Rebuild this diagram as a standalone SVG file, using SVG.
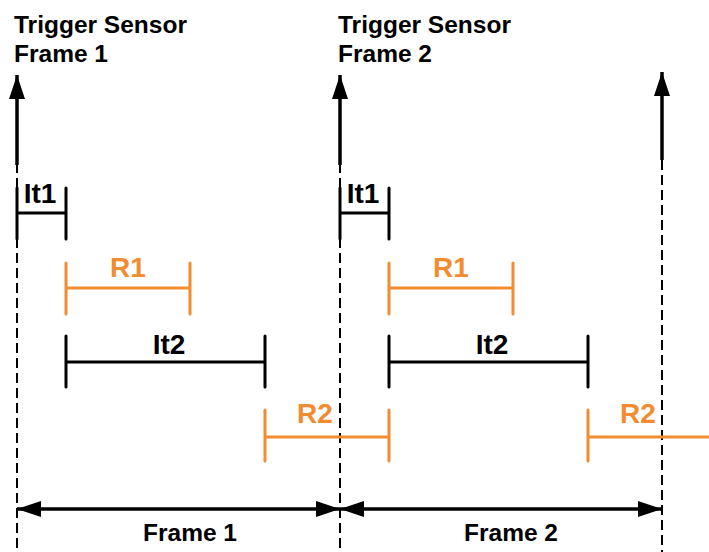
<svg xmlns="http://www.w3.org/2000/svg" width="709" height="552" viewBox="0 0 709 552">
<style>
text{font-family:"Liberation Sans",Arial,sans-serif;font-weight:bold}
.t{font-size:24.5px;fill:#000}
.lb{font-size:28px;fill:#000;text-anchor:middle}
.lo{font-size:28px;fill:#F28C30;text-anchor:middle}
.fr{font-size:24.5px;fill:#000;text-anchor:middle}
.dash{stroke:#000;stroke-width:2;stroke-dasharray:10 5;fill:none}
.shaft{stroke:#000;stroke-width:3.5;fill:none}
.bk{stroke:#000;stroke-width:3;fill:none;stroke-linecap:round}
.bo{stroke:#F28C30;stroke-width:3;fill:none;stroke-linecap:round}
.dim{stroke:#000;stroke-width:3.5;fill:none}
</style>
<defs>
<marker id="ah" viewBox="0 0 24 16" refX="24" refY="8" markerWidth="24" markerHeight="16" markerUnits="userSpaceOnUse" orient="auto-start-reverse">
<path d="M0,0 L24,8 L0,16 Z" fill="#000"/>
</marker>
</defs>
<g id="titles">
<text class="t" x="14" y="33">Trigger Sensor</text>
<text class="t" x="14" y="62">Frame 1</text>
<text class="t" x="338" y="33">Trigger Sensor</text>
<text class="t" x="338" y="62">Frame 2</text>
</g>
<g id="connectors">
<line class="dash" x1="17" y1="163" x2="17" y2="552"/>
<line class="dash" x1="340" y1="163" x2="340" y2="552"/>
<line class="dash" x1="662" y1="160" x2="662" y2="552"/>
<line class="shaft" x1="17" y1="165" x2="17" y2="75" marker-end="url(#ah)"/>
<line class="shaft" x1="340" y1="165" x2="340" y2="75" marker-end="url(#ah)"/>
<line class="shaft" x1="662" y1="160" x2="662" y2="72" marker-end="url(#ah)"/>
<line class="dim" x1="17" y1="509" x2="340" y2="509" marker-start="url(#ah)" marker-end="url(#ah)"/>
<line class="dim" x1="340" y1="509" x2="662" y2="509" marker-start="url(#ah)" marker-end="url(#ah)"/>
</g>
<g id="it1-f1">
<path class="bk" d="M17,188 V239 M17,213 H66 M66,188 V239"/>
<text class="lb" x="40" y="203">It1</text>
</g>
<g id="r1-f1">
<path class="bo" d="M66,263 V314 M66,288 H190 M190,263 V314"/>
<text class="lo" x="128" y="277">R1</text>
</g>
<g id="it2-f1">
<path class="bk" d="M66,336 V387 M66,362 H265 M265,336 V387"/>
<text class="lb" x="169" y="354">It2</text>
</g>
<g id="r2-f1">
<path class="bo" d="M265,410 V461 M265,437 H389 M389,410 V461"/>
<text class="lo" x="315" y="423">R2</text>
</g>
<g id="it1-f2">
<path class="bk" d="M340,188 V239 M340,213 H389 M389,188 V239"/>
<text class="lb" x="363" y="203">It1</text>
</g>
<g id="r1-f2">
<path class="bo" d="M389,263 V314 M389,288 H513 M513,263 V314"/>
<text class="lo" x="451" y="277">R1</text>
</g>
<g id="it2-f2">
<path class="bk" d="M389,336 V387 M389,362 H588 M588,336 V387"/>
<text class="lb" x="492" y="354">It2</text>
</g>
<g id="r2-f2">
<path class="bo" d="M588,410 V461 M588,437 H709"/>
<text class="lo" x="638" y="423">R2</text>
</g>
<g id="frame-labels">
<text class="fr" x="190" y="541">Frame 1</text>
<text class="fr" x="511" y="541">Frame 2</text>
</g>
</svg>
